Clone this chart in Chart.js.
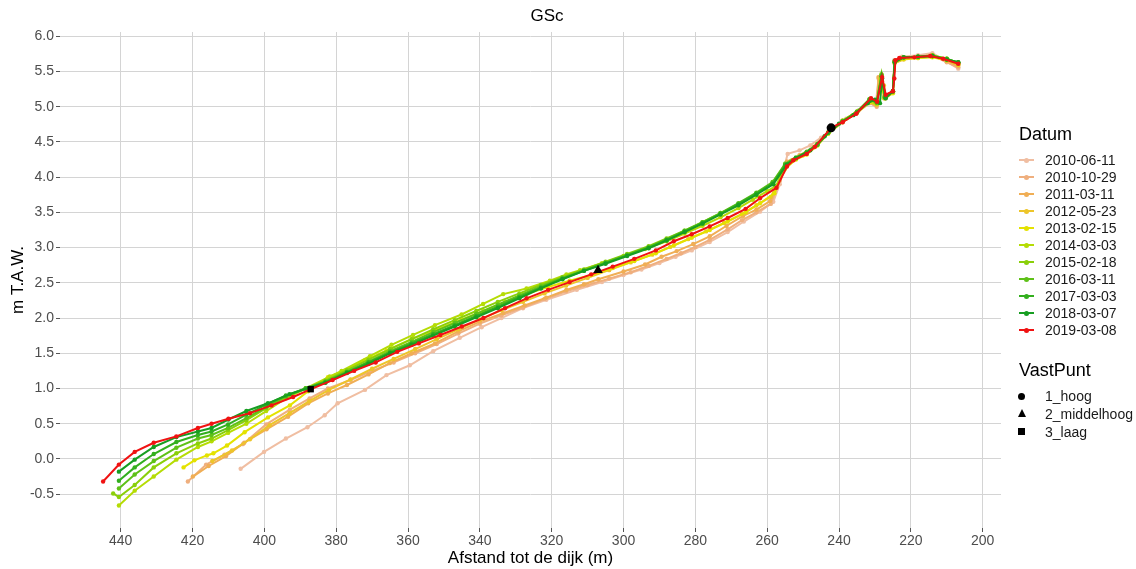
<!DOCTYPE html>
<html>
<head>
<meta charset="utf-8">
<script src="https://cdn.jsdelivr.net/npm/chart.js@4"></script>
<style>
  html, body { margin:0; padding:0; background:#fff; }
  #wrap { position:relative; width:1136px; height:569px; font-family:"Liberation Sans", Arial, sans-serif; }
  #c { position:absolute; left:0; top:0; }
  .lg { position:absolute; color:#000; white-space:nowrap; }
  .lt { font-size:18px; line-height:20px; }
  .li { font-size:14px; line-height:16px; color:#1a1a1a; }
  .kl { position:absolute; height:2px; width:15px; }
  .kd { position:absolute; width:5px; height:5px; border-radius:50%; }
</style>
</head>
<body>
<div id="wrap">
  <canvas id="c" width="1136" height="569"></canvas>
  <div id="legend"></div>
</div>
<script>
// ---- data ----
const seriesNames = ["2010-06-11","2010-10-29","2011-03-11","2012-05-23","2013-02-15","2014-03-03","2015-02-18","2016-03-11","2017-03-03","2018-03-07","2019-03-08"];
const seriesColors = ["#F0BEA2","#EFAF7E","#F0AE55","#EDC52A","#E4E200","#B5DC05","#8ACF0A","#5EC118","#33AF1E","#179E22","#F01212"];

const s2010_06_11 = [[406.6,-0.14],[400.1,0.10],[394,0.29],[388,0.45],[383.2,0.62],[379.6,0.79],[372,0.98],[366,1.19],[359.5,1.33],[353,1.53],[345.6,1.72],[339.5,1.87],[334,2.00],[328,2.14],[321.5,2.26],[313,2.40],[306,2.51],[300,2.61],[295,2.69],[290,2.78],[285.5,2.87],[281,2.96],[276,3.08],[271,3.22],[266.5,3.37],[262,3.51],[258.3,3.65],[256.5,3.90],[254.3,4.33],[251,4.38],[248,4.45],[245,4.56],[242,4.68],[238,4.83],[234.5,4.95],[231.5,5.05],[229.8,5.02],[229,5.40],[228.2,5.38],[227.5,5.12],[225,5.22],[224.6,5.66],[222.5,5.71],[218,5.73],[214,5.76],[210,5.64],[206.8,5.54]];
const s2010_10_29 = [[421.3,-0.32],[416.2,-0.08],[411.1,0.06],[406,0.21],[399.5,0.49],[392.9,0.70],[387.4,0.86],[382.3,1.00],[376,1.12],[370,1.25],[364,1.37],[358,1.50],[352,1.63],[346,1.78],[340,1.92],[334,2.04],[328,2.15],[322,2.27],[316,2.38],[310,2.47],[304,2.56],[298,2.65],[293,2.74],[288,2.84],[284,2.92],[280,3.01],[276,3.11],[271,3.26],[267,3.39],[263,3.50],[259,3.62],[256.5,3.95],[254.5,4.22],[251,4.30],[247,4.42],[243,4.62],[239,4.79],[235,4.92],[231.5,5.05],[229.5,5.00],[228.8,5.38],[228,5.36],[227.2,5.12],[225,5.20],[224.6,5.62],[222,5.68],[218,5.70],[214,5.73],[210,5.63],[206.8,5.56]];
const s2011_03_11 = [[419.9,-0.25],[415.5,-0.10],[410.7,0.04],[405.6,0.23],[399.4,0.42],[393.4,0.60],[387.8,0.79],[382.3,0.93],[377,1.05],[371,1.20],[365.1,1.36],[359,1.50],[352.5,1.64],[346,1.81],[340,1.95],[333.5,2.07],[327.5,2.18],[321.5,2.29],[315.9,2.40],[311,2.48],[307,2.55],[300,2.66],[294,2.76],[289.4,2.87],[285.2,2.95],[280.6,3.05],[276,3.16],[271.3,3.31],[266.7,3.45],[263,3.54],[259.2,3.66],[256.5,3.98],[254.5,4.22],[251,4.31],[247,4.43],[243,4.64],[239,4.80],[235,4.93],[231.5,5.06],[229.5,5.02],[229,5.42],[228.2,5.40],[227.3,5.14],[225,5.21],[224.5,5.63],[222,5.69],[218,5.71],[214,5.73],[210,5.65],[206.8,5.58]];
const s2012_05_23 = [[414.5,-0.03],[409,0.12],[404,0.28],[398.5,0.48],[393,0.65],[387.5,0.82],[382,0.98],[376,1.13],[370,1.28],[364,1.42],[358,1.56],[352,1.70],[346,1.84],[340,1.98],[334,2.11],[328,2.23],[322,2.35],[316,2.46],[310,2.57],[304,2.68],[298,2.79],[292,2.90],[287,3.01],[282,3.12],[277,3.23],[272,3.35],[267,3.48],[263,3.60],[259,3.72],[255.5,4.08],[253,4.24],[250,4.31],[246.5,4.44],[243,4.62],[239,4.78],[235,4.91],[231.5,5.06],[229.5,5.03],[228.5,5.36],[227.5,5.30],[227,5.12],[225,5.20],[224.5,5.62],[222,5.67],[218,5.69],[214,5.71],[210,5.66],[206.8,5.59]];
const s2013_02_15 = [[422.5,-0.12],[419.5,-0.02],[416,0.05],[414.2,0.08],[410.4,0.19],[405.5,0.38],[399,0.59],[392.9,0.76],[387.8,0.96],[382.3,1.16],[378.5,1.24],[372,1.40],[366,1.54],[359,1.70],[352,1.84],[345,1.98],[339,2.10],[333,2.23],[327,2.34],[321,2.44],[315,2.53],[309,2.61],[303,2.71],[297,2.81],[291,2.92],[286,3.03],[281,3.14],[276,3.25],[271,3.37],[266,3.50],[262,3.63],[258,3.77],[255,4.12],[252,4.25],[249,4.32],[246,4.45],[243,4.62],[239,4.79],[235,4.92],[231.5,5.07],[229.5,5.04],[228.4,5.40],[227.4,5.12],[225,5.19],[224.5,5.64],[222,5.68],[218,5.69],[214,5.70],[210,5.66],[206.8,5.60]];
const s2014_03_03 = [[440.5,-0.66],[436.1,-0.45],[430.8,-0.25],[424.5,-0.01],[418.5,0.17],[414.7,0.25],[410.1,0.37],[405,0.50],[399.5,0.68],[394,0.86],[388.5,1.00],[381.8,1.17],[378.5,1.25],[370.6,1.46],[364.6,1.62],[358.6,1.76],[352.5,1.90],[345.1,2.05],[339.1,2.20],[333.5,2.34],[327,2.42],[320.5,2.53],[315.9,2.62],[312.1,2.68],[306,2.78],[300,2.88],[294,2.98],[288,3.09],[283,3.20],[278,3.31],[273,3.43],[268,3.56],[264,3.68],[260,3.80],[257.5,3.88],[255,4.14],[252,4.26],[249,4.34],[246,4.46],[243,4.63],[239,4.80],[235,4.93],[231.5,5.08],[229.5,5.04],[228.3,5.38],[227.3,5.13],[225,5.21],[224.5,5.63],[222,5.69],[218,5.70],[214,5.72],[210,5.68],[206.8,5.61]];
const s2015_02_18 = [[442.1,-0.49],[440.5,-0.54],[436.1,-0.37],[430.8,-0.12],[424.5,0.08],[418.5,0.22],[414.7,0.29],[410.1,0.41],[405,0.55],[399.5,0.72],[394,0.88],[388.5,1.00],[383,1.11],[377,1.26],[371,1.41],[365,1.56],[359,1.70],[353,1.84],[347,1.97],[341,2.10],[335,2.23],[329,2.35],[323,2.47],[317,2.58],[311,2.69],[305,2.80],[299,2.91],[293,3.02],[288,3.13],[283,3.24],[278,3.36],[273,3.49],[268,3.62],[263,3.77],[258.5,3.92],[255,4.18],[252,4.27],[249,4.35],[246,4.47],[243,4.63],[239,4.80],[235,4.93],[231.5,5.10],[229.5,5.06],[228.2,5.46],[227.3,5.15],[225,5.22],[224.5,5.64],[222,5.70],[218,5.71],[214,5.73],[210,5.68],[206.8,5.62]];
const s2016_03_11 = [[440.5,-0.42],[436.1,-0.22],[430.8,-0.03],[424.5,0.16],[418.5,0.29],[414.7,0.34],[410.1,0.44],[405,0.58],[399.5,0.74],[394,0.89],[388.5,1.00],[383,1.10],[377,1.24],[371,1.38],[365,1.53],[359,1.66],[353,1.80],[347,1.93],[341,2.06],[335,2.19],[329,2.32],[323,2.45],[317,2.57],[311,2.68],[305,2.79],[299,2.90],[293,3.01],[288,3.12],[283,3.24],[278,3.36],[273,3.49],[268,3.63],[263,3.78],[258.5,3.93],[255,4.19],[252,4.28],[249,4.36],[246,4.47],[243,4.63],[239,4.79],[235,4.93],[231.5,5.11],[229.5,5.07],[228.1,5.45],[227.2,5.14],[225,5.22],[224.5,5.65],[222,5.70],[218,5.71],[214,5.72],[210,5.68],[206.8,5.62]];
const s2017_03_03 = [[440.5,-0.31],[436.1,-0.12],[430.8,0.07],[424.5,0.24],[418.5,0.34],[414.7,0.39],[410.1,0.49],[405,0.63],[399.5,0.77],[394,0.90],[388.5,1.00],[383,1.09],[377,1.23],[371,1.37],[365,1.51],[359,1.64],[353,1.77],[347,1.90],[341,2.03],[335,2.16],[329,2.30],[323,2.43],[317,2.56],[311,2.67],[305,2.78],[299,2.89],[293,3.00],[288,3.11],[283,3.23],[278,3.35],[273,3.48],[268,3.62],[263,3.77],[258.5,3.91],[255,4.17],[252,4.27],[249,4.35],[246,4.46],[243,4.63],[239,4.79],[235,4.92],[231.5,5.10],[229.5,5.06],[228.2,5.43],[227.2,5.13],[225,5.22],[224.5,5.65],[222,5.70],[218,5.71],[214,5.72],[210,5.67],[206.8,5.63]];
const s2018_03_07 = [[440.5,-0.18],[436.1,-0.01],[430.8,0.17],[424.5,0.31],[418.5,0.39],[414.7,0.44],[410,0.56],[405,0.68],[399,0.79],[393,0.92],[387.5,1.01],[383,1.08],[377,1.22],[371,1.35],[365,1.50],[359,1.62],[353,1.75],[347,1.88],[341,2.01],[335,2.14],[329,2.28],[323,2.42],[317,2.55],[311,2.67],[305,2.77],[299,2.88],[293,2.99],[288,3.10],[283,3.22],[278,3.34],[273,3.47],[268,3.60],[263,3.75],[258.3,3.90],[254.5,4.18],[252,4.27],[248,4.38],[244,4.58],[240,4.76],[236,4.88],[232,5.05],[230,5.10],[228.6,5.05],[228,5.40],[227,5.12],[225,5.22],[224.5,5.63],[222,5.70],[218,5.71],[214,5.72],[210,5.67],[206.8,5.63]];
const s2019_03_08 = [[444.9,-0.32],[440.5,-0.08],[436.1,0.10],[430.8,0.23],[424.5,0.32],[418.5,0.44],[414.7,0.50],[410,0.57],[404,0.65],[398,0.76],[392,0.88],[387,0.99],[381,1.12],[375,1.25],[369,1.37],[363,1.52],[357,1.64],[351,1.76],[345,1.88],[339,2.00],[333,2.14],[327,2.28],[321,2.40],[315,2.51],[309,2.62],[303,2.73],[297,2.84],[291,2.96],[286,3.09],[281,3.19],[276,3.30],[271,3.42],[266,3.55],[262,3.70],[257.4,3.85],[254.5,4.15],[252.7,4.24],[249,4.33],[246.7,4.43],[242.2,4.70],[239,4.78],[235.2,4.90],[231.1,5.12],[229.4,5.07],[228,5.42],[227,5.17],[225,5.22],[224.6,5.40],[224.3,5.66],[223.2,5.69],[219,5.70],[214.6,5.72],[211,5.68],[206.8,5.61]];

const seriesData = [s2010_06_11,s2010_10_29,s2011_03_11,s2012_05_23,s2013_02_15,s2014_03_03,s2015_02_18,s2016_03_11,s2017_03_03,s2018_03_07,s2019_03_08];

// fixed points (VastPunt)
const vastNames = ["1_hoog","2_middelhoog","3_laag"];
const vastStyles = ["circle","triangle","rect"];
const vastPoints = [[242.2,4.70],[307.1,2.68],[387.1,0.99]];

const xTicks = [440,420,400,380,360,340,320,300,280,260,240,220,200];
const yTicks = [-0.5,0.0,0.5,1.0,1.5,2.0,2.5,3.0,3.5,4.0,4.5,5.0,5.5,6.0];

// ---- chart ----
const FONT = "'Liberation Sans', Arial, sans-serif";
Chart.defaults.font.family = FONT;

const datasets = [];
vastPoints.forEach((p, i) => {
  datasets.push({
    label: vastNames[i],
    data: [{x: p[0], y: p[1]}],
    showLine: false,
    pointStyle: vastStyles[i],
    pointRadius: i === 1 ? 5.5 : 4.5,
    backgroundColor: "#000",
    borderColor: "#000",
    borderWidth: 0,
    order: 0
  });
});
seriesData.forEach((s, i) => {
  datasets.push({
    label: seriesNames[i],
    data: s.map(([x, y]) => ({x, y})),
    showLine: true,
    borderColor: seriesColors[i],
    backgroundColor: seriesColors[i],
    borderWidth: 2,
    pointRadius: 2.2,
    pointBorderWidth: 0,
    tension: 0,
    order: seriesNames.length - i
  });
});

new Chart(document.getElementById("c"), {
  type: "scatter",
  data: { datasets },
  options: {
    responsive: false,
    animation: false,
    devicePixelRatio: 1,
    layout: { padding: { left: 0, right: 42, top: 0, bottom: 0 } },
    plugins: {
      legend: { display: false },
      tooltip: { enabled: false },
      title: {
        display: true, text: "GSc", color: "#000",
        font: { size: 17, weight: "normal", family: FONT },
        padding: { top: 6, bottom: 5.6 }
      }
    },
    scales: {
      x: {
        type: "linear", position: "bottom", reverse: true,
        min: 194.9, max: 456.9,
        afterBuildTicks: s => { s.ticks = xTicks.map(v => ({value: v})); },
        afterFit: s => { s.height = 41; },
        ticks: { color: "#4d4d4d", font: { size: 14 }, padding: 1, maxRotation: 0, autoSkip: false,
                 callback: v => String(v) },
        grid: { color: "#d4d4d4", lineWidth: 1, tickLength: 4, tickColor: "#555" },
        border: { display: false },
        title: { display: true, text: "Afstand tot de dijk (m)", color: "#000",
                 font: { size: 17 }, padding: { top: 0, bottom: 0 } }
      },
      y: {
        type: "linear", position: "left",
        min: -0.98, max: 6.06,
        afterBuildTicks: s => { s.ticks = yTicks.map(v => ({value: v})); },
        afterFit: s => { s.width = 60; },
        ticks: { color: "#4d4d4d", font: { size: 14 }, padding: 2, autoSkip: false,
                 callback: v => Number(v).toFixed(1) },
        grid: { color: "#d4d4d4", lineWidth: 1, tickLength: 4, tickColor: "#555" },
        border: { display: false },
        title: { display: true, text: "m T.A.W.", color: "#000",
                 font: { size: 17 }, padding: { top: 8, bottom: 0 } }
      },
      yRight: {
        type: "linear", position: "right", display: true,
        min: 0, max: 1,
        afterFit: s => { s.width = 93; },
        ticks: { display: false },
        grid: { display: false, drawTicks: false },
        border: { display: false }
      }
    }
  }
});

// ---- legend (HTML) ----
const lg = document.getElementById("legend");
function add(html) { lg.insertAdjacentHTML("beforeend", html); }
add(`<div class="lg lt" style="left:1019px;top:124px">Datum</div>`);
seriesNames.forEach((n, i) => {
  const cy = 160 + i * 17;
  add(`<div class="kl" style="left:1019px;top:${cy - 1}px;background:${seriesColors[i]}"></div>`);
  add(`<div class="kd" style="left:1024px;top:${cy - 2.5}px;background:${seriesColors[i]}"></div>`);
  add(`<div class="lg li" style="left:1045px;top:${cy - 8}px">${n}</div>`);
});
add(`<div class="lg lt" style="left:1019px;top:360px">VastPunt</div>`);
vastNames.forEach((n, i) => {
  const cy = 396 + i * 17.8;
  let mk;
  if (i === 0) mk = `<div style="position:absolute;left:1018px;top:${cy - 3.5}px;width:7px;height:7px;border-radius:50%;background:#000"></div>`;
  else if (i === 1) mk = `<div style="position:absolute;left:1017.5px;top:${cy - 4.5}px;width:0;height:0;border-left:4px solid transparent;border-right:4px solid transparent;border-bottom:8px solid #000"></div>`;
  else mk = `<div style="position:absolute;left:1018px;top:${cy - 3.5}px;width:7px;height:7px;background:#000"></div>`;
  add(mk);
  add(`<div class="lg li" style="left:1045px;top:${cy - 8}px">${n}</div>`);
});
</script>
</body>
</html>
